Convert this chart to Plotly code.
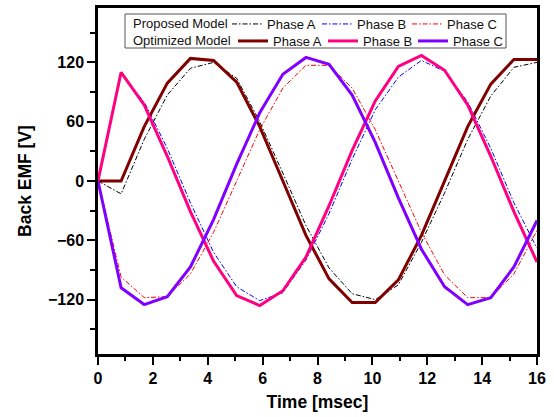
import plotly.graph_objects as go

# ---- data ----
time_ms = [0, 0.842, 1.684, 2.526, 3.368, 4.211, 5.053, 5.895, 6.737, 7.579,
           8.421, 9.263, 10.105, 10.947, 11.789, 12.632, 13.474, 14.316, 15.158, 16]

prop_a = [0, -13, 42, 87, 114, 120, 104, 60, 8, -45, -88, -114, -120, -105, -62, -12, 42, 86, 115, 120]
prop_b = [0, 108, 80, 33, -22, -72, -107, -121, -113, -80, -33, 22, 72, 105, 122, 111, 80, 33, -22, -68]
prop_c = [0, -97, -118, -117, -94, -52, 0, 52, 94, 117, 117, 94, 52, 0, -52, -95, -118, -118, -94, -50]

opt_a = [0, 0, 55, 99, 124, 122, 100, 55, 0, -55, -99, -123, -123, -100, -55, 0, 55, 98, 123, 123]
opt_b = [0, 110, 77, 25, -31, -81, -116, -126, -111, -77, -25, 31, 81, 116, 127, 112, 77, 25, -31, -82]
opt_c = [0, -108, -125, -117, -87, -39, 17, 69, 108, 125, 118, 87, 39, -17, -69, -107, -125, -118, -87, -40]

phase_names = ["Phase A", "Phase B", "Phase C"]
row_labels = ["Proposed Model", "Optimized Model"]
x_title = "Time [msec]"
y_title = "Back EMF [V]"

prop_colors = ["#000000", "#0000FF", "#FF0000"]
opt_colors = ["#800000", "#FF0080", "#8000FF"]

FONT = "Liberation Sans, Arial, sans-serif"
W, H = 554, 417
L, R, T, B = 98, 17, 8, 63
PW, PH = W - L - R, H - T - B


def px(xp):
    return (xp - L) / PW


def py(yp):
    return (H - B - yp) / PH


fig = go.Figure()
for vals, name, col in zip([prop_a, prop_b, prop_c], phase_names, prop_colors):
    fig.add_trace(go.Scatter(x=time_ms, y=vals, mode="lines", name=name,
                             line=dict(color=col, width=1, dash="5px,2px,1.5px,2px"),
                             legend="legend"))
for vals, name, col in zip([opt_a, opt_b, opt_c], phase_names, opt_colors):
    fig.add_trace(go.Scatter(x=time_ms, y=vals, mode="lines", name=name,
                             line=dict(color=col, width=3),
                             legend="legend2"))

tickfont = dict(family=FONT, size=16, color="#000", weight="bold")
titlefont = dict(family=FONT, size=17.5, color="#000", weight="bold")

fig.update_xaxes(range=[0, 16], dtick=2, tick0=0, showgrid=False, zeroline=False,
                 showline=True, linecolor="#000", linewidth=2.5, mirror=True,
                 ticks="outside", ticklen=8, tickwidth=2, tickcolor="#000",
                 minor=dict(dtick=1, ticks="outside", ticklen=4, tickwidth=2, tickcolor="#000"),
                 tickfont=tickfont, title=dict(text=x_title, font=titlefont, standoff=10),
                 automargin=False)
fig.update_yaxes(range=[-175, 175], dtick=60, tick0=0, showgrid=False, zeroline=False,
                 showline=True, linecolor="#000", linewidth=2.5, mirror=True,
                 ticks="outside", ticklen=8, tickwidth=2, tickcolor="#000",
                 minor=dict(dtick=30, tick0=0, ticks="outside", ticklen=5, tickwidth=2, tickcolor="#000"),
                 tickfont=tickfont, title=dict(text=y_title, font=titlefont, standoff=12),
                 automargin=False)

legfont = dict(family=FONT, size=13, color="#111")
common_leg = dict(orientation="h", xref="paper", yref="paper",
                  xanchor="left", yanchor="middle", entrywidth=45, entrywidthmode="pixels",
                  bgcolor="rgba(0,0,0,0)", borderwidth=0, font=legfont, traceorder="normal")

fig.update_layout(
    width=W, height=H,
    margin=dict(l=L, r=R, t=T, b=B),
    paper_bgcolor="white", plot_bgcolor="white",
    showlegend=True,
    legend=dict(x=px(227), y=py(24), **common_leg),
    legend2=dict(x=px(233), y=py(41), **common_leg),
    shapes=[dict(type="rect", xref="paper", yref="paper",
                 x0=px(125), x1=px(506), y0=py(48), y1=py(14),
                 line=dict(color="#555", width=1), fillcolor="white", layer="above")],
    annotations=[
        dict(text=row_labels[0], xref="paper", yref="paper",
             x=px(131), y=py(24), xanchor="left", yanchor="middle",
             showarrow=False, font=legfont),
        dict(text=row_labels[1], xref="paper", yref="paper",
             x=px(131), y=py(41), xanchor="left", yanchor="middle",
             showarrow=False, font=legfont),
    ],
)

fig.write_html("out.html", config={"displayModeBar": False},
               post_script="document.body.style.margin='0';document.body.style.padding='0';")
